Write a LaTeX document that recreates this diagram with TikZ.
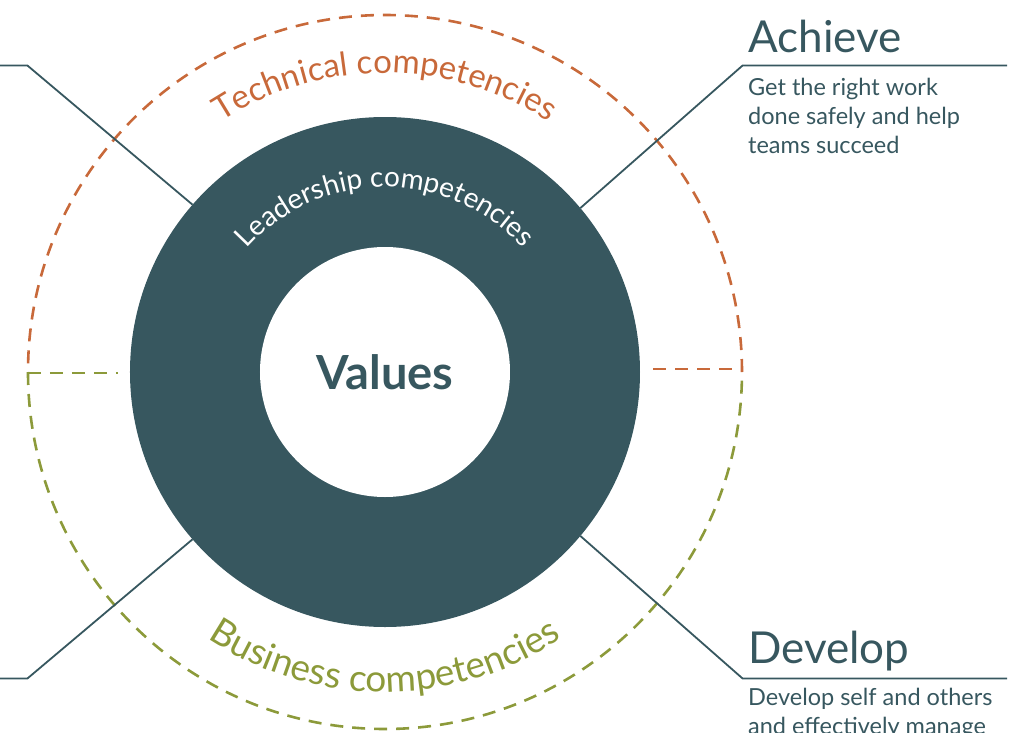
\documentclass[tikz,border=0pt]{standalone}
\usepackage{fontspec}
\setmainfont{Lato}
\usetikzlibrary{decorations.text}
\definecolor{slate}{HTML}{37575F}
\definecolor{rust}{HTML}{C8693A}
\definecolor{olive}{HTML}{8C9A3A}
\tikzset{
  ringline/.style={line width=2.6pt, dash pattern=on 13pt off 9pt},
  link/.style={slate, line width=1.8pt},
  head/.style={anchor=base west, inner sep=0, text=slate, font=\fontsize{44}{44}\selectfont},
  blurb/.style={anchor=base west, inner sep=0, text=slate, align=left, font=\fontsize{23.5}{29}\selectfont},
}
\begin{document}
\begin{tikzpicture}[x=1pt, y=1pt]
  \useasboundingbox (-385,-360) rectangle (636,372);
  % outer competencies circle
  \draw[ringline, rust] (0:357pt) arc[start angle=0, end angle=180, radius=357pt];
  \draw[ringline, olive] (180:357pt) arc[start angle=180, end angle=360, radius=357pt];
  \draw[ringline, rust] (268,3) -- (357,3);
  \draw[ringline, olive] (-357,-1) -- (-267,-1);
  % leadership ring and values
  \node[circle, fill=slate, minimum size=510pt, inner sep=0, outer sep=0] (ring) at (0,0) {};
  \node[circle, fill=white, minimum size=250pt, inner sep=0, text=slate,
        font=\fontsize{47}{47}\selectfont\bfseries] (values) at (0,0) {Values};
  % connectors
  \foreach \ang/\x/\n in {40.6/622/ne, 139.4/-390/nw, -40.6/622/se, -139.4/-390/sw} {
    \coordinate (knee-\n) at (\ang:471);
    \coordinate (end-\n) at (\x, {471*sin(\ang)});
    \draw[link] (ring.\ang) -- (knee-\n) -- (end-\n);
  }
  % curved labels
  \path[decorate, decoration={text along path, text align=center, text color=white,
        text={|\fontsize{28}{28}\selectfont|Leadership competencies}}]
    (150:185) arc[start angle=150, end angle=30, radius=185pt];
  \path[decorate, decoration={text along path, text align=center, text color=rust,
        text={|\fontsize{33}{33}\selectfont|Technical competencies}}]
    (150:299) arc[start angle=150, end angle=30, radius=299pt];
  \path[decorate, decoration={text along path, text align=center, text color=olive,
        text={|\fontsize{37}{37}\selectfont|Business competencies}}]
    (210:320) arc[start angle=210, end angle=330, radius=320pt];
  % side texts
  \node[head] (achieve) at (363,320) {Achieve};
  \node[blurb] (achieve-txt) at (363,219) {Get the right work\\done safely and help\\teams succeed};
  \node[head] (develop) at (363,-291) {Develop};
  \node[blurb] (develop-txt) at (363,-362) {Develop self and others\\and effectively manage};
\end{tikzpicture}
\end{document}
